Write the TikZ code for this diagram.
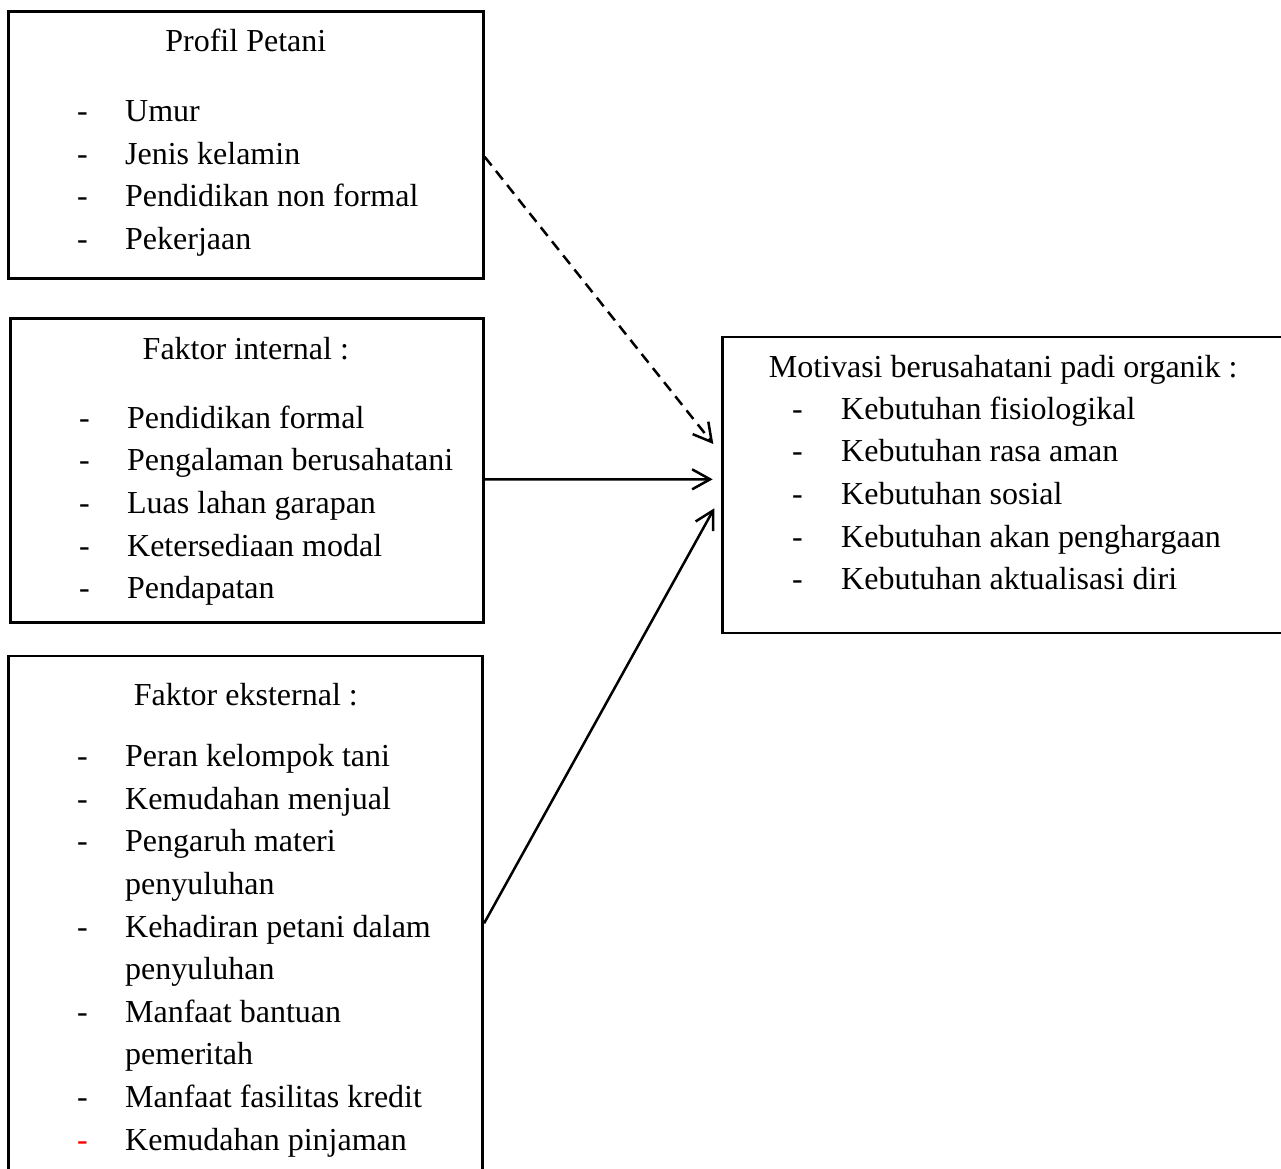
\documentclass[tikz,border=0pt]{standalone}
\usepackage{fontspec}
\setmainfont{Liberation Serif}
\usetikzlibrary{arrows.meta,calc}
\begin{document}
\begin{tikzpicture}[x=1pt,y=-1pt,
  box/.style={draw=black, line width=2.8pt, inner sep=0pt},
  ttl/.style={anchor=base, inner sep=0pt, font=\fontsize{32}{42.6}\selectfont},
  lst/.style={anchor=base west, inner sep=0pt, font=\fontsize{32}{42.6}\selectfont},
  conn/.style={line width=2.5pt, -{Straight Barb[length=18pt,width=20pt]}},
]
\useasboundingbox (0,0) rectangle (1281,1168);
\fill[white] (0,0) rectangle (1281,1168);
\clip (0,0) rectangle (1281,1168);

% boxes
\node[box, minimum width=475pt, minimum height=266.6pt] (p) at (245.8,145) {};
\node[box, minimum width=472.6pt, minimum height=304.4pt] (fi) at (247,470.5) {};
\node[box, minimum width=474.4pt, minimum height=544pt] (fe) at (245.5,928) {};
\node[box, minimum width=597.3pt, minimum height=296pt] (m) at (1021.35,485) {};

% box 1
\node[ttl] (pt) at (245.8,51.7) {Profil Petani};
\node[lst] (pl) at (77,121.5) {\begin{tabular}[t]{@{}p{48pt}@{}l@{}}
- & Umur\\
- & Jenis kelamin\\
- & Pendidikan non formal\\
- & Pekerjaan
\end{tabular}};

% box 2
\node[ttl] (fit) at (245.8,359.3) {Faktor internal :};
\node[lst] (fil) at (79,428.3) {\begin{tabular}[t]{@{}p{48pt}@{}l@{}}
- & Pendidikan formal\\
- & Pengalaman berusahatani\\
- & Luas lahan garapan\\
- & Ketersediaan modal\\
- & Pendapatan
\end{tabular}};

% box 3
\node[ttl] (fet) at (245.8,705.5) {Faktor eksternal :};
\node[lst] (fel) at (77,766.7) {\begin{tabular}[t]{@{}p{48pt}@{}l@{}}
- & Peran kelompok tani\\
- & Kemudahan menjual\\
- & Pengaruh materi\\
  & penyuluhan\\
- & Kehadiran petani dalam\\
  & penyuluhan\\
- & Manfaat bantuan\\
  & pemeritah\\
- & Manfaat fasilitas kredit\\
\textcolor{red}{-} & Kemudahan pinjaman
\end{tabular}};

% box 4
\node[lst] (mt) at (768.6,377.3) {Motivasi berusahatani padi organik :};
\node[lst] (ml) at (792,419.3) {\begin{tabular}[t]{@{}p{49pt}@{}l@{}}
- & Kebutuhan fisiologikal\\
- & Kebutuhan rasa aman\\
- & Kebutuhan sosial\\
- & Kebutuhan akan penghargaan\\
- & Kebutuhan aktualisasi diri
\end{tabular}};

% connector targets
\coordinate (a1) at (713.3,444);
\coordinate (a2) at (712.7,479.3);
\coordinate (a3) at (714.3,508.3);

\draw[conn, dash pattern=on 11pt off 7pt] ($(p.north east)!0.544!(p.south east)$) -- (a1);
\draw[conn] ($(fi.north east)!0.529!(fi.south east)$) -- (a2);
\draw[conn] ($(fe.north east)!0.4914!(fe.south east)$) -- (a3);
\end{tikzpicture}
\end{document}
